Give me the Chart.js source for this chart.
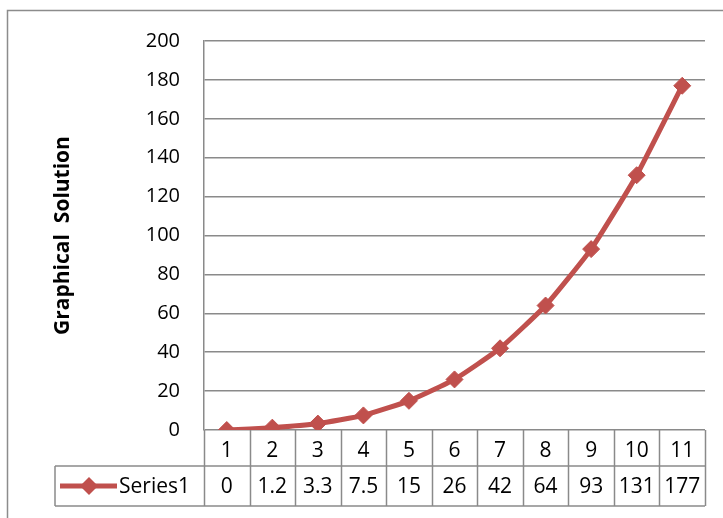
<!DOCTYPE html>
<html>
<head>
<meta charset="utf-8">
<script src="https://cdn.jsdelivr.net/npm/chart.js@4"></script>
<style>
  html, body { margin: 0; padding: 0; background: #fff; }
  canvas { display: block; }
</style>
</head>
<body>
<canvas id="solutionChart" width="723" height="518"></canvas>
<script>
const categories = ['1', '2', '3', '4', '5', '6', '7', '8', '9', '10', '11'];
const series1 = [0, 1.2, 3.3, 7.5, 15, 26, 42, 64, 93, 131, 177];
const seriesName = 'Series1';
const axisTitle = 'Graphical  Solution';

const RED = '#C0504D';
const GRID = '#8a8a8a';
const FONT = "'Open Sans', Lato, sans-serif";

// frame + data table under the plot, drawn from the x scale
const dataTable = {
  id: 'dataTable',
  beforeDraw(chart) {
    const ctx = chart.ctx;
    ctx.save();
    ctx.strokeStyle = '#8c8c8c';
    ctx.lineWidth = 1.5;
    ctx.strokeRect(7.5, 10.5, 800, 600);
    ctx.restore();
  },
  afterDraw(chart) {
    const ctx = chart.ctx;
    const x = chart.scales.x;
    const top = chart.chartArea.bottom;
    const mid = top + 36;
    const bottom = mid + 40;
    const legendLeft = 55;
    const step = (x.right - x.left) / categories.length;

    ctx.save();
    ctx.strokeStyle = GRID;
    ctx.lineWidth = 1.5;
    ctx.beginPath();
    ctx.moveTo(legendLeft, mid); ctx.lineTo(x.right, mid);
    ctx.moveTo(legendLeft, bottom); ctx.lineTo(x.right, bottom);
    ctx.moveTo(legendLeft, mid); ctx.lineTo(legendLeft, bottom);
    for (let i = 0; i <= categories.length; i++) {
      const px = Math.round(x.left + i * step) + 0.5;
      ctx.moveTo(px, top); ctx.lineTo(px, bottom);
    }
    ctx.stroke();

    ctx.fillStyle = '#000';
    ctx.font = '21px ' + FONT;
    ctx.textAlign = 'center';
    ctx.textBaseline = 'middle';
    categories.forEach((c, i) => {
      const px = x.getPixelForValue(i);
      ctx.fillText(c, px, (top + mid) / 2 + 3);
      ctx.fillText(String(series1[i]), px, (mid + bottom) / 2 + 1);
    });

    // legend key
    const ly = (mid + bottom) / 2;
    ctx.strokeStyle = RED;
    ctx.lineWidth = 5;
    ctx.beginPath();
    ctx.moveTo(60, ly); ctx.lineTo(117, ly);
    ctx.stroke();
    ctx.fillStyle = RED;
    ctx.beginPath();
    ctx.moveTo(89, ly - 9); ctx.lineTo(98, ly); ctx.lineTo(89, ly + 9); ctx.lineTo(80, ly);
    ctx.closePath();
    ctx.fill();
    ctx.fillStyle = '#000';
    ctx.textAlign = 'left';
    ctx.fillText(seriesName, 119, ly + 1);
    ctx.restore();
  }
};

new Chart(document.getElementById('solutionChart'), {
  type: 'line',
  data: {
    labels: categories,
    datasets: [{
      label: seriesName,
      data: series1,
      borderColor: RED,
      backgroundColor: RED,
      borderWidth: 5,
      pointStyle: 'rectRot',
      pointRadius: 8.5,
      pointHoverRadius: 8.5,
      pointBackgroundColor: RED,
      pointBorderColor: RED,
      pointBorderWidth: 1,
      tension: 0.15
    }]
  },
  options: {
    responsive: false,
    animation: false,
    layout: {
      padding: { left: 0, top: 41, right: 18, bottom: 88 }
    },
    plugins: {
      legend: { display: false },
      tooltip: { enabled: false }
    },
    scales: {
      x: {
        display: false,
        offset: true
      },
      y: {
        min: 0,
        max: 200,
        afterFit: (scale) => { scale.width = 204; },
        ticks: {
          stepSize: 20,
          padding: 24,
          color: '#000',
          font: { family: FONT, size: 20 }
        },
        grid: {
          color: GRID,
          lineWidth: 1.5,
          drawTicks: false
        },
        border: {
          display: true,
          color: GRID,
          width: 1.5
        },
        title: {
          display: true,
          text: axisTitle,
          color: '#000',
          padding: { top: 50 },
          font: { family: FONT, size: 21, weight: 'bold' }
        }
      }
    }
  },
  plugins: [dataTable]
});
</script>
</body>
</html>
